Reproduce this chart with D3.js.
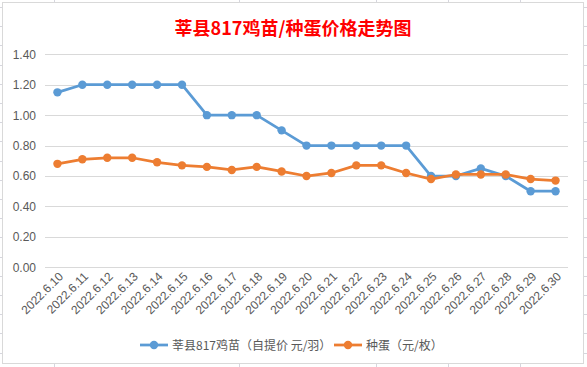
<!DOCTYPE html>
<html><head><meta charset="utf-8">
<script src="https://cdn.jsdelivr.net/npm/d3@7/dist/d3.min.js"></script>
<style>
html,body{margin:0;padding:0;background:#fff;}
svg{display:block;}
</style></head>
<body>
<script>
const categories = ["2022.6.10","2022.6.11","2022.6.12","2022.6.13","2022.6.14","2022.6.15","2022.6.16","2022.6.17","2022.6.18","2022.6.19","2022.6.20","2022.6.21","2022.6.22","2022.6.23","2022.6.24","2022.6.25","2022.6.26","2022.6.27","2022.6.28","2022.6.29","2022.6.30"];
const chickValues = [1.15,1.20,1.20,1.20,1.20,1.20,1.00,1.00,1.00,0.90,0.80,0.80,0.80,0.80,0.80,0.60,0.60,0.65,0.60,0.50,0.50];
const eggValues = [0.68,0.71,0.72,0.72,0.69,0.67,0.66,0.64,0.66,0.63,0.60,0.62,0.67,0.67,0.62,0.58,0.61,0.61,0.61,0.58,0.57];
const yTicks = [0,0.2,0.4,0.6,0.8,1.0,1.2,1.4];
const seriesNames = ["莘县817鸡苗（自提价 元/羽）","种蛋（元/枚）"];
const colors = ["#5b9bd5","#ed7d31"];
const titleText = "莘县817鸡苗/种蛋价格走势图";

const W = 587, H = 367;
const svg = d3.select("body").append("svg").attr("width", W).attr("height", H);

// Excel sheet grid background
const bg = svg.append("g");
const rows = d3.range(7, H, 19.2);
bg.selectAll("line.r").data(rows).enter().append("line")
  .attr("x1",0).attr("x2",W).attr("y1",d=>Math.round(d)+0.5).attr("y2",d=>Math.round(d)+0.5)
  .attr("stroke","#d6d6de").attr("stroke-width",1);
const cols = [54,239,376,448,520];
bg.selectAll("line.c").data(cols).enter().append("line")
  .attr("y1",0).attr("y2",H).attr("x1",d=>d+0.5).attr("x2",d=>d+0.5)
  .attr("stroke","#d6d6de").attr("stroke-width",1);

// Chart area
svg.append("rect").attr("x",2.5).attr("y",2.5).attr("width",581).attr("height",361)
  .attr("fill","#fff").attr("stroke","#d9d9d9").attr("stroke-width",1);

const plot = {left:45, right:568, top:54.3, bottom:267.3};
const x = d3.scalePoint().domain(categories).range([plot.left, plot.right]).padding(0.5);
const y = d3.scaleLinear().domain([0,1.4]).range([plot.bottom, plot.top]);

// gridlines
svg.append("g").selectAll("line").data(yTicks).enter().append("line")
  .attr("x1",plot.left).attr("x2",plot.right)
  .attr("y1",d=>Math.round(y(d))+0.5).attr("y2",d=>Math.round(y(d))+0.5)
  .attr("stroke","#d9d9d9").attr("stroke-width",1);

// y axis labels
const yAxis = d3.axisLeft(y).tickValues(yTicks).tickFormat(d3.format(".2f")).tickSize(0).tickPadding(9);
const ya = svg.append("g").attr("transform",`translate(${plot.left},0)`).call(yAxis);
ya.select(".domain").remove();
ya.selectAll("text").attr("font-family","'Liberation Sans', Arial, sans-serif").attr("font-size","12px").attr("fill","#595959");

// x axis labels
const xAxis = d3.axisBottom(x).tickSize(0).tickPadding(0);
const xa = svg.append("g").attr("transform",`translate(0,${plot.bottom})`).call(xAxis);
xa.select(".domain").remove();
xa.selectAll("text")
  .attr("font-family","'Liberation Sans', Arial, sans-serif").attr("font-size","12px").attr("fill","#595959")
  .attr("text-anchor","end").attr("dy",null).attr("y",null)
  .attr("transform","translate(6,10) rotate(-45)");

// lines
const line = d3.line().x((d,i)=>x(categories[i])).y(d=>y(d));
[chickValues, eggValues].forEach((vals, k) => {
  svg.append("path").datum(vals).attr("d", line).attr("fill","none")
    .attr("stroke",colors[k]).attr("stroke-width",2.75).attr("stroke-linejoin","round").attr("stroke-linecap","round");
  svg.append("g").selectAll("circle").data(vals).enter().append("circle")
    .attr("cx",(d,i)=>x(categories[i])).attr("cy",d=>y(d)).attr("r",4.2).attr("fill",colors[k]);
});

// title
svg.append("text").attr("x",293).attr("y",35).attr("text-anchor","middle")
  .attr("font-family","'Noto Sans CJK SC', sans-serif").attr("font-weight","bold")
  .attr("font-size","18px").attr("fill","#ff0000").text(titleText);

// legend
const legendItems = [{x:140, tx:172}, {x:334, tx:366}];
legendItems.forEach((it,k)=>{
  const g = svg.append("g");
  g.append("line").attr("x1",it.x).attr("x2",it.x+28).attr("y1",345).attr("y2",345)
    .attr("stroke",colors[k]).attr("stroke-width",2.75);
  g.append("circle").attr("cx",it.x+14).attr("cy",345).attr("r",4.2).attr("fill",colors[k]);
  g.append("text").attr("x",it.tx).attr("y",349.5)
    .attr("font-family","'Noto Sans CJK SC', sans-serif").attr("font-size","12px").attr("fill","#595959")
    .text(seriesNames[k]);
});
</script>
</body></html>
